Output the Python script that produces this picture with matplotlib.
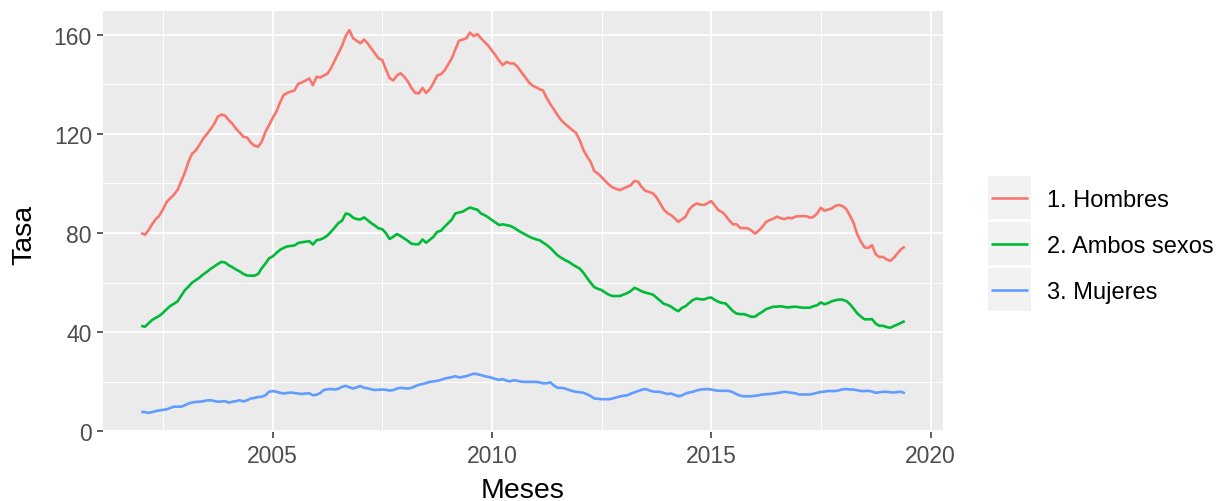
import numpy as np
import pandas as pd
import matplotlib
matplotlib.use("Agg")
import matplotlib.pyplot as plt
import matplotlib.dates as mdates
from matplotlib.patches import Rectangle
from matplotlib.lines import Line2D

# ---------------- data (monthly, Jan 2002 - Jun 2019) ----------------
start_month = "2002-01-01"

hombres = [
    80, 79.3, 81, 83.5, 85.5, 87, 89.5, 92.5, 94, 95.5, 97.5, 101,            # 2002
    104.5, 109, 112, 113.3, 115.5, 118, 119.8, 121.8, 124, 126.9, 127.8, 127.3,  # 2003
    125.5, 124, 122, 120.5, 118.8, 118.5, 116.5, 115.2, 114.8, 116.8, 120.8, 123.5,  # 2004
    126.5, 129, 132.5, 135.6, 136.5, 137, 137.5, 140.2, 140.7, 141.5, 142.3, 139.6,  # 2005
    143, 142.7, 143.5, 144.2, 146.5, 149.5, 152.5, 155.5, 159.5, 161.8, 158.5, 157.5,  # 2006
    156.5, 158, 156.5, 154.4, 152.5, 150.4, 149.8, 146, 142.5, 141.5, 143.5, 144.4,  # 2007
    143, 141, 138.5, 136.5, 136.3, 138.5, 136.5, 138, 140.5, 143.5, 144, 145.5,  # 2008
    148, 150.5, 154, 157.5, 158, 158.5, 160.8, 159.4, 160.2, 158.5, 157, 155.5,  # 2009
    153.5, 151.5, 149.5, 147.7, 149, 148.4, 148.4, 147, 145, 143, 141, 139.5,  # 2010
    138.8, 138, 137.5, 134.5, 132, 129.8, 127.5, 125.5, 124, 122.8, 121.5, 120.4,  # 2011
    117.5, 113.5, 111, 108.7, 105, 104, 102.5, 101, 99.5, 98.4, 97.8, 97.3,  # 2012
    98, 98.7, 99.2, 101, 100.7, 98.5, 97, 96.6, 96, 94.5, 92, 89.5,  # 2013
    88, 87.2, 86, 84.5, 85.5, 86.6, 89.5, 91, 91.9, 91.5, 91.3, 92,  # 2014
    92.9, 91, 89.2, 88.5, 87, 85, 83.5, 83.5, 82, 82, 81.9, 81,  # 2015
    79.8, 81, 82.5, 84.5, 85.2, 85.8, 86.6, 86, 85.6, 86.2, 85.9, 86.6,  # 2016
    86.8, 86.8, 86.8, 86.2, 86.5, 87.9, 90.2, 89, 89.5, 89.9, 91, 91.3,  # 2017
    90.8, 89.5, 87, 84, 79.5, 76.5, 74.2, 74, 75.1, 71.5, 70.3, 70.4,  # 2018
    69.3, 68.8, 70, 71.8, 73.5, 74.5,  # 2019
]

ambos = [
    42.6, 42.2, 43.5, 44.9, 45.8, 46.6, 47.8, 49.3, 50.6, 51.5, 52.5, 54.8,  # 2002
    57, 58.5, 60, 61, 62, 63.3, 64.3, 65.5, 66.5, 67.5, 68.4, 68.1,  # 2003
    67, 66.2, 65.3, 64.5, 63.5, 62.9, 62.8, 62.8, 63.5, 65.8, 67.7, 69.8,  # 2004
    70.6, 72, 73.2, 74, 74.6, 74.8, 75, 76, 76.3, 76.5, 76.7, 75.4,  # 2005
    77.1, 77.4, 78, 79, 80.5, 82.2, 84, 85, 87.9, 87.5, 86.2, 85.6,  # 2006
    85.5, 86.3, 85.2, 84, 83, 81.9, 81.6, 80, 77.6, 78.5, 79.6, 78.8,  # 2007
    77.8, 76.8, 75.7, 75.5, 75.5, 77.4, 76.1, 77.3, 78.5, 80.5, 80.9, 82.5,  # 2008
    84, 85.5, 87.9, 88.3, 88.6, 89.5, 90.3, 89.8, 89.4, 87.9, 87.2, 86.3,  # 2009
    85.2, 84.2, 83.2, 83.5, 83.2, 82.9, 82.2, 81.2, 80.3, 79.5, 78.7, 78,  # 2010
    77.5, 77.1, 76.2, 75.2, 74, 72.5, 71, 70, 69.1, 68.4, 67.4, 66.5,  # 2011
    65.7, 64, 62, 60, 58.2, 57.5, 57, 56, 55.1, 54.6, 54.6, 54.6,  # 2012
    55.2, 55.8, 56.6, 57.9, 57.3, 56.5, 56, 55.6, 55.2, 54, 52.7, 51.5,  # 2013
    51, 50.3, 49.3, 48.5, 49.8, 50.5, 51.8, 53, 53.6, 53.3, 53.2, 53.8,  # 2014
    54, 53, 52.3, 51.8, 51.6, 50, 48.5, 47.5, 47.3, 47.3, 46.8, 46.2,  # 2015
    46.3, 47.4, 48.2, 49.3, 49.8, 50.3, 50.3, 50.5, 50.2, 50, 50.2, 50.3,  # 2016
    50.1, 49.9, 49.9, 49.9, 50.5, 50.9, 52, 51.3, 51.8, 52.5, 52.9, 53.2,  # 2017
    53.1, 52.5, 51.3, 49.5, 47.6, 46.3, 45.2, 45.2, 45.3, 43.5, 42.6, 42.6,  # 2018
    42.1, 41.8, 42.5, 43.1, 43.8, 44.5,  # 2019
]

mujeres = [
    7.9, 7.8, 7.5, 7.8, 8.2, 8.5, 8.7, 8.9, 9.5, 10, 10, 10,  # 2002
    10.6, 11.3, 11.7, 11.9, 12, 12.2, 12.5, 12.6, 12.3, 12, 12.1, 12.2,  # 2003
    11.6, 12, 12.2, 12.6, 12.1, 12.6, 13.3, 13.5, 13.9, 14, 14.6, 16,  # 2004
    16.3, 16, 15.6, 15.3, 15.5, 15.7, 15.5, 15.3, 15.1, 15.3, 15.4, 14.6,  # 2005
    14.8, 15.5, 16.7, 17, 17.1, 16.9, 17.2, 18, 18.4, 17.8, 17.3, 17.8,  # 2006
    18.3, 17.6, 17.4, 17, 16.7, 16.8, 16.9, 16.8, 16.5, 16.7, 17.3, 17.6,  # 2007
    17.4, 17.3, 17.6, 18.2, 18.8, 19.1, 19.5, 20, 20.2, 20.4, 20.8, 21.3,  # 2008
    21.6, 21.9, 22.3, 21.8, 22, 22.3, 22.8, 23.3, 23.1, 22.7, 22.3, 22,  # 2009
    21.6, 21.1, 20.8, 21.1, 20.5, 20.2, 20.7, 20.4, 20.1, 20, 20, 20,  # 2010
    20, 19.8, 19.4, 19.4, 19.8, 18.5, 17.6, 17.6, 17.3, 16.8, 16.3, 16,  # 2011
    15.8, 15.6, 15, 14.3, 13.3, 13.2, 13, 13, 13, 13.3, 13.7, 14.1,  # 2012
    14.4, 14.6, 15.2, 15.8, 16.3, 16.8, 17.1, 16.6, 16.1, 16, 16, 15.5,  # 2013
    15.1, 15.3, 14.8, 14.2, 14.5, 15.3, 15.7, 16, 16.5, 16.9, 17, 17.1,  # 2014
    16.9, 16.6, 16.4, 16.4, 16.4, 16.3, 15.8, 15, 14.4, 14.2, 14.2, 14.2,  # 2015
    14.4, 14.6, 14.9, 15, 15.1, 15.3, 15.5, 15.7, 16, 15.8, 15.6, 15.4,  # 2016
    14.9, 14.9, 14.9, 14.9, 15.2, 15.6, 15.9, 16.1, 16.3, 16.3, 16.3, 16.6,  # 2017
    17, 17.1, 16.9, 16.9, 16.6, 16.3, 16.3, 16.4, 16.1, 15.6, 15.8, 16,  # 2018
    16, 15.8, 15.7, 15.9, 16, 15.4,  # 2019
]

series_names = ["1. Hombres", "2. Ambos sexos", "3. Mujeres"]
series_colors = ["#F8766D", "#00BA38", "#619CFF"]
y_ticks = [0, 40, 80, 120, 160]
y_minor = [20, 60, 100, 140]
x_tick_years = [2005, 2010, 2015, 2020]
x_minor_dates = ["2002-07-01", "2007-07-01", "2012-07-01", "2017-07-01"]
x_title = "Meses"
y_title = "Tasa"

# ---------------- figure ----------------
plt.rcParams["font.family"] = ["Liberation Sans", "DejaVu Sans"]
W, H = 1219, 502
fig = plt.figure(figsize=(W / 100, H / 100), dpi=100)
fig.patch.set_facecolor("white")

pl, pr, pt, pb = 103, 943, 12, 433
ax = fig.add_axes([pl / W, 1 - pb / H, (pr - pl) / W, (pb - pt) / H])
ax.set_facecolor("#EBEBEB")

dates = pd.date_range(start_month, periods=len(hombres), freq="MS")
values = [hombres, ambos, mujeres]
for vals, col in zip(values, series_colors):
    ax.plot(dates[: len(vals)], vals, color=col, lw=1.9, solid_capstyle="butt",
            solid_joinstyle="round", zorder=3)

# ggplot-like 5% expansion
xn = mdates.date2num(dates)
xr = xn.max() - xn.min()
ax.set_xlim(xn.min() - 0.05 * xr, xn.max() + 0.05 * xr)
allv = np.concatenate([np.asarray(v, float) for v in values])
yr = allv.max() - allv.min()
ax.set_ylim(allv.min() - 0.05 * yr, allv.max() + 0.05 * yr)

ax.set_xticks([mdates.date2num(pd.Timestamp(f"{y}-01-01")) for y in x_tick_years])
ax.set_xticklabels([str(y) for y in x_tick_years])
ax.set_xticks([mdates.date2num(pd.Timestamp(d)) for d in x_minor_dates], minor=True)
ax.set_yticks(y_ticks)
ax.set_yticklabels([str(v) for v in y_ticks])
ax.set_yticks(y_minor, minor=True)

ax.grid(which="major", color="white", lw=1.3, zorder=1)
ax.grid(which="minor", color="white", lw=0.65, zorder=1)
ax.set_axisbelow(True)
for s in ax.spines.values():
    s.set_visible(False)

ax.tick_params(which="major", length=4.5, width=1.1, color="#333333",
               labelsize=16.5, labelcolor="#4D4D4D")
ax.tick_params(axis="x", which="major", pad=4.5)
ax.tick_params(axis="y", which="major", pad=3.5)
ax.tick_params(which="minor", length=0)

ax.set_xlabel(x_title, fontsize=20.5, color="black", labelpad=7)
ax.set_ylabel(y_title, fontsize=20.5, color="black")
ax.yaxis.set_label_coords(-0.078, 0.47)

# ---------------- legend (ggplot style) ----------------
lax = fig.add_axes([0, 0, 1, 1])
lax.set_xlim(0, W)
lax.set_ylim(H, 0)
lax.axis("off")
key_x0, key_w, key_h = 988, 43, 43
row_tops = [177, 223, 269]
for name, col, top in zip(series_names, series_colors, row_tops):
    lax.add_patch(Rectangle((key_x0, top), key_w, key_h, facecolor="#F2F2F2",
                            edgecolor="none"))
    cy = top + key_h / 2
    lax.add_line(Line2D([key_x0 + 3, key_x0 + key_w - 3], [cy, cy], color=col,
                        lw=1.9, solid_capstyle="butt"))
    lax.text(1047, cy, name, fontsize=17, color="black", va="center_baseline",
             ha="left")

fig.savefig("out.png", dpi=100)
